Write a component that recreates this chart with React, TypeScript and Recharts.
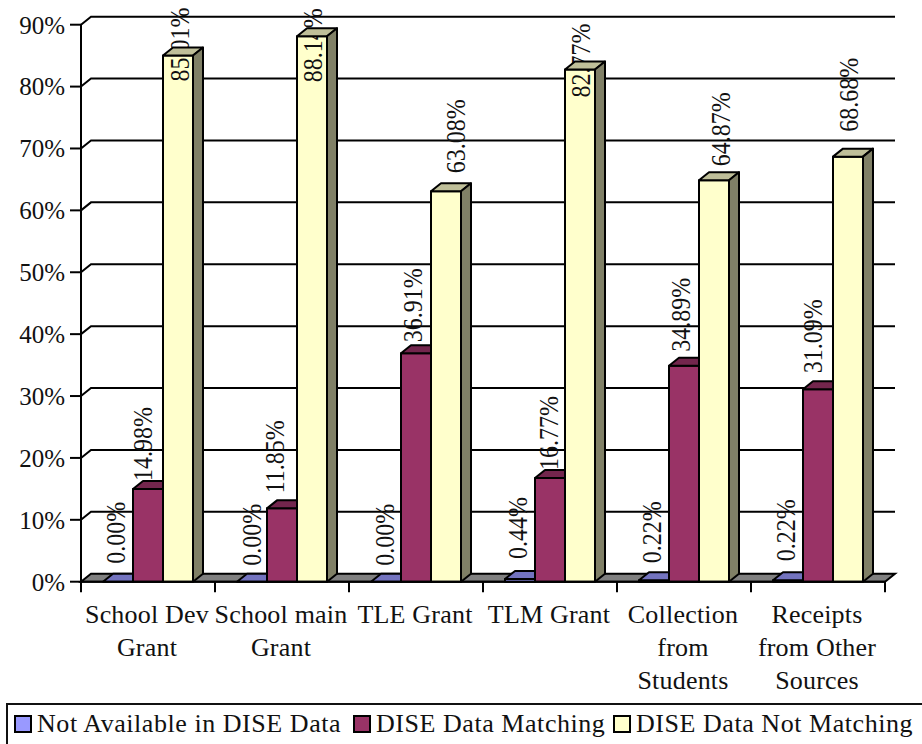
import { BarChart, Bar, XAxis, YAxis, CartesianGrid, Legend } from "recharts";

const CATEGORIES = [
  "School Dev\nGrant",
  "School main\nGrant",
  "TLE Grant",
  "TLM Grant",
  "Collection\nfrom\nStudents",
  "Receipts\nfrom Other\nSources",
];
const NOT_AVAILABLE = [0, 0, 0, 0.44, 0.22, 0.22];
const MATCHING = [14.98, 11.85, 36.91, 16.77, 34.89, 31.09];
const NOT_MATCHING = [85.01, 88.14, 63.08, 82.77, 64.87, 68.68];
const Y_TICKS = [0, 10, 20, 30, 40, 50, 60, 70, 80, 90];

const SERIES = [
  { key: "notAvailable", name: "Not Available in DISE Data", fill: "#9999ff", top: "#7373bf", side: "#4d4d80" },
  { key: "matching", name: "DISE Data Matching", fill: "#993366", top: "#73264d", side: "#4d1a33" },
  { key: "notMatching", name: "DISE Data Not Matching", fill: "#ffffcc", top: "#bfbf99", side: "#808066" },
];

// where Word happened to leave each rotated label: [shift from bar centre, lift above bar top]
const LABEL_NUDGE = [
  [[-2, 18], [0, 16], [-1, 16], [-2, 20], [-2, 17], [-2, 19]],
  [[-5, 8], [-7, 15], [-3, 11], [-1, 8], [-3, 14], [-5, 16]],
  [[2, -26], [1, -46], [10, 18], [1, -28], [7, 14], [1, 25]],
];

const WIDTH = 922;
const HEIGHT = 744;
const DX = 10;
const DY = 8;
const FONT = '"Liberation Serif", serif';
const PLOT_LEFT = 81;
const PLOT_BOTTOM = 581.7;
const BAND = 134;

const data = CATEGORIES.map((name, i) => ({
  name,
  notAvailable: NOT_AVAILABLE[i],
  matching: MATCHING[i],
  notMatching: NOT_MATCHING[i],
}));

const makeBarShape = (s: number) => (props: any) => {
  const { x, y, width, height, index } = props;
  const { fill, top, side } = SERIES[s];
  const value = [NOT_AVAILABLE, MATCHING, NOT_MATCHING][s][index];
  const [shift, lift] = LABEL_NUDGE[s][index];
  const lx = x + width / 2 + shift;
  const ly = y - lift;
  return (
    <g stroke="#000" strokeWidth={2} strokeLinejoin="round">
      {height > 0 && <rect x={x} y={y} width={width} height={height} fill={fill} />}
      {/* the original labels are wider across the glyphs than Liberation Serif */}
      <text
        transform={`translate(${lx} ${ly}) rotate(-90) scale(1 1.18)`}
        textAnchor="start"
        dominantBaseline="central"
        fontFamily={FONT}
        fontSize={24}
        fill="#111"
        stroke="none"
      >
        {value.toFixed(2)}%
      </text>
      <polygon
        points={`${x},${y} ${x + DX},${y - DY} ${x + width + DX},${y - DY} ${x + width},${y}`}
        fill={top}
      />
      <polygon
        points={`${x + width},${y} ${x + width + DX},${y - DY} ${x + width + DX},${y + height - DY} ${x + width},${y + height}`}
        fill={side}
      />
    </g>
  );
};

const gridLine = (props: any) => {
  const { x1, x2, y1, index } = props;
  const isFloor = y1 > PLOT_BOTTOM - 1;
  return (
    <g key={`grid-${index}`} stroke="#000" strokeWidth={2}>
      {isFloor ? (
        <polygon
          points={`${x1},${y1} ${x1 + DX},${y1 - DY} ${x2 + DX},${y1 - DY} ${x2},${y1}`}
          fill="#808080"
        />
      ) : (
        <polyline points={`${x1},${y1} ${x1 + DX},${y1 - DY} ${x2 + DX},${y1 - DY}`} fill="none" />
      )}
    </g>
  );
};

const CategoryTick = (props: any) => {
  const { x, payload, index } = props;
  const left = PLOT_LEFT + BAND * index;
  return (
    <g>
      <line x1={left} x2={left} y1={PLOT_BOTTOM} y2={PLOT_BOTTOM + 10.5} stroke="#000" strokeWidth={2} />
      {index === CATEGORIES.length - 1 && (
        <line x1={left + BAND} x2={left + BAND} y1={PLOT_BOTTOM} y2={PLOT_BOTTOM + 10.5} stroke="#000" strokeWidth={2} />
      )}
      <text textAnchor="middle" fontFamily={FONT} fontSize={26} fill="#111" letterSpacing={0.2}>
        {String(payload.value)
          .split("\n")
          .map((line, i) => (
            <tspan key={i} x={x - 1} y={PLOT_BOTTOM + 41 + i * 33}>
              {line}
            </tspan>
          ))}
      </text>
    </g>
  );
};

const SWATCH_LEFT = [8, 347, 607];

const LegendBox = () => (
  <div
    style={{
      position: "relative",
      boxSizing: "border-box",
      width: 916,
      height: 41,
      borderTop: "2px solid #111",
      borderLeft: "2px solid #111",
      fontFamily: FONT,
      fontSize: 26,
      letterSpacing: 0.55,
      color: "#111",
      whiteSpace: "nowrap",
    }}
  >
    {SERIES.map((s, i) => (
      <div key={s.key}>
        <div
          style={{
            position: "absolute",
            left: SWATCH_LEFT[i] - 2,
            top: 10,
            width: 14,
            height: 14,
            border: "2px solid #000",
            background: s.fill,
          }}
        />
        <div style={{ position: "absolute", left: SWATCH_LEFT[i] + 21, top: 4 }}>{s.name}</div>
      </div>
    ))}
  </div>
);

export default function App() {
  return (
    <div style={{ position: "absolute", left: 0, top: 0, width: WIDTH, height: HEIGHT, overflow: "hidden", background: "#fff" }}>
      <BarChart
        width={WIDTH}
        height={HEIGHT}
        data={data}
        margin={{ top: 24.7, right: 37, bottom: 0, left: 0 }}
        barSize={30}
        barGap={0}
      >
        <CartesianGrid vertical={false} horizontal={gridLine} />
        <XAxis
          dataKey="name"
          interval={0}
          height={121.3}
          tick={CategoryTick}
          tickLine={false}
          axisLine={{ stroke: "#000", strokeWidth: 2 }}
        />
        <YAxis
          width={81}
          domain={[0, 90]}
          ticks={Y_TICKS}
          tickFormatter={(v: number) => `${v}%`}
          tickSize={11}
          tickMargin={5}
          tick={{ fontFamily: FONT, fontSize: 25, fill: "#111" }}
          tickLine={{ stroke: "#000", strokeWidth: 2 }}
          axisLine={{ stroke: "#000", strokeWidth: 2 }}
        />
        <Legend
          content={<LegendBox />}
          verticalAlign="bottom"
          wrapperStyle={{ left: 6, width: 916, bottom: 0 }}
        />
        {SERIES.map((s, i) => (
          <Bar key={s.key} dataKey={s.key} name={s.name} fill={s.fill} shape={makeBarShape(i)} isAnimationActive={false} />
        ))}
      </BarChart>
    </div>
  );
}
